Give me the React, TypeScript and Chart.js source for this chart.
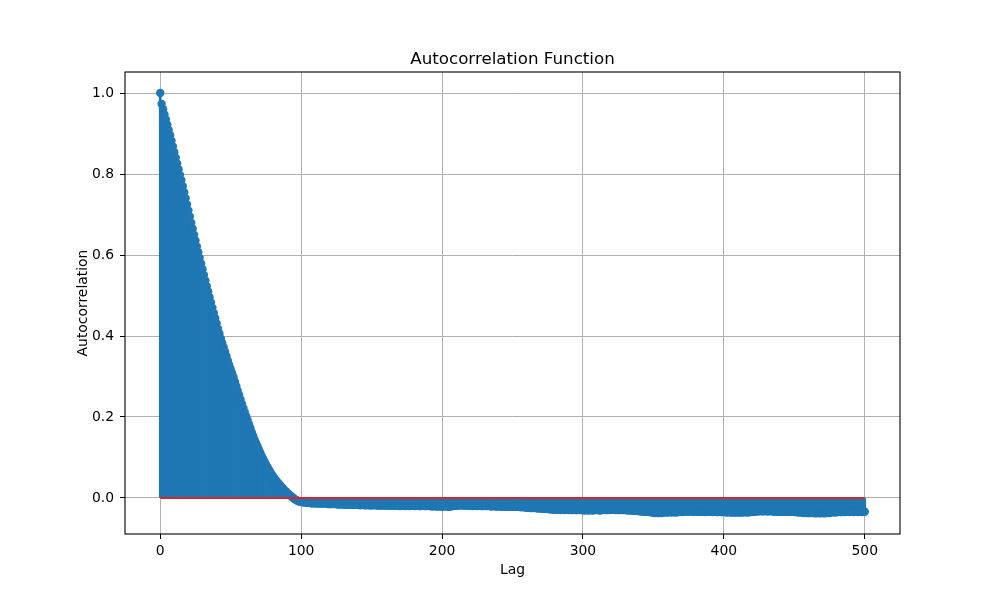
import React, { useEffect, useRef } from "react";
import { Chart, registerables } from "chart.js";

Chart.register(...registerables);

// Autocorrelation values, lag 0..500
const acfLag000to049 = [
  1.0, 0.973, 0.96, 0.947, 0.935, 0.922, 0.909, 0.896, 0.882, 0.868,
  0.854, 0.84, 0.826, 0.812, 0.798, 0.784, 0.77, 0.755, 0.74, 0.725,
  0.71, 0.695, 0.68, 0.665, 0.65, 0.636, 0.621, 0.607, 0.593, 0.579,
  0.565, 0.551, 0.537, 0.523, 0.51, 0.496, 0.483, 0.47, 0.457, 0.444,
  0.431, 0.418, 0.406, 0.394, 0.383, 0.372, 0.361, 0.35, 0.339, 0.328,
];
const acfLag050to100 = [
  0.318, 0.308, 0.298, 0.287, 0.276, 0.265, 0.254, 0.243, 0.232, 0.222,
  0.212, 0.202, 0.192, 0.182, 0.172, 0.162, 0.153, 0.144, 0.136, 0.128,
  0.12, 0.112, 0.104, 0.097, 0.09, 0.083, 0.077, 0.071, 0.065, 0.059,
  0.054, 0.049, 0.044, 0.04, 0.036, 0.032, 0.028, 0.024, 0.02, 0.017,
  0.013, 0.01, 0.007, 0.004, 0.001, -0.002, -0.004, -0.006, -0.008, -0.009,
  -0.01,
];
const acfLag101to200 = [
  -0.01, -0.011, -0.011, -0.012, -0.012, -0.012, -0.013, -0.013, -0.013, -0.013,
  -0.013, -0.014, -0.014, -0.014, -0.014, -0.013, -0.014, -0.014, -0.015, -0.015,
  -0.015, -0.015, -0.014, -0.015, -0.015, -0.016, -0.016, -0.015, -0.016, -0.016,
  -0.016, -0.016, -0.017, -0.016, -0.016, -0.017, -0.017, -0.016, -0.017, -0.017,
  -0.017, -0.018, -0.017, -0.017, -0.018, -0.018, -0.017, -0.018, -0.018, -0.018,
  -0.018, -0.017, -0.018, -0.018, -0.019, -0.018, -0.018, -0.019, -0.018, -0.018,
  -0.019, -0.019, -0.018, -0.019, -0.019, -0.019, -0.018, -0.019, -0.019, -0.02,
  -0.019, -0.019, -0.019, -0.02, -0.019, -0.019, -0.02, -0.019, -0.019, -0.019,
  -0.02, -0.019, -0.019, -0.02, -0.02, -0.019, -0.019, -0.02, -0.02, -0.019,
  -0.02, -0.02, -0.021, -0.02, -0.02, -0.021, -0.021, -0.02, -0.021, -0.021,
];
const acfLag201to300 = [
  -0.021, -0.02, -0.021, -0.021, -0.022, -0.021, -0.02, -0.02, -0.019, -0.019,
  -0.019, -0.018, -0.018, -0.018, -0.018, -0.019, -0.018, -0.019, -0.019, -0.019,
  -0.019, -0.02, -0.019, -0.019, -0.02, -0.019, -0.019, -0.02, -0.02, -0.019,
  -0.02, -0.02, -0.019, -0.02, -0.021, -0.02, -0.02, -0.021, -0.021, -0.02,
  -0.021, -0.021, -0.022, -0.021, -0.021, -0.022, -0.021, -0.021, -0.022, -0.021,
  -0.022, -0.022, -0.021, -0.022, -0.022, -0.023, -0.022, -0.023, -0.023, -0.024,
  -0.024, -0.024, -0.025, -0.025, -0.024, -0.025, -0.025, -0.026, -0.025, -0.026,
  -0.026, -0.027, -0.027, -0.026, -0.027, -0.028, -0.028, -0.028, -0.029, -0.028,
  -0.029, -0.029, -0.029, -0.03, -0.029, -0.029, -0.03, -0.029, -0.029, -0.03,
  -0.029, -0.03, -0.03, -0.029, -0.03, -0.03, -0.029, -0.03, -0.03, -0.03,
];
const acfLag301to400 = [
  -0.031, -0.03, -0.03, -0.031, -0.03, -0.03, -0.031, -0.03, -0.03, -0.03,
  -0.03, -0.031, -0.03, -0.03, -0.029, -0.03, -0.03, -0.029, -0.03, -0.029,
  -0.029, -0.029, -0.03, -0.029, -0.03, -0.03, -0.029, -0.03, -0.03, -0.03,
  -0.03, -0.031, -0.03, -0.031, -0.031, -0.032, -0.031, -0.032, -0.032, -0.033,
  -0.033, -0.033, -0.034, -0.033, -0.034, -0.034, -0.035, -0.035, -0.036, -0.036,
  -0.037, -0.036, -0.037, -0.037, -0.036, -0.037, -0.036, -0.036, -0.035, -0.036,
  -0.035, -0.035, -0.036, -0.035, -0.035, -0.036, -0.035, -0.035, -0.034, -0.035,
  -0.034, -0.034, -0.033, -0.033, -0.034, -0.033, -0.033, -0.034, -0.034, -0.033,
  -0.034, -0.034, -0.033, -0.034, -0.034, -0.034, -0.035, -0.034, -0.034, -0.034,
  -0.034, -0.035, -0.034, -0.034, -0.035, -0.035, -0.034, -0.035, -0.035, -0.035,
];
const acfLag401to500 = [
  -0.035, -0.036, -0.035, -0.035, -0.036, -0.036, -0.035, -0.036, -0.036, -0.035,
  -0.036, -0.036, -0.035, -0.036, -0.035, -0.035, -0.036, -0.035, -0.035, -0.034,
  -0.034, -0.034, -0.033, -0.033, -0.033, -0.032, -0.033, -0.033, -0.032, -0.033,
  -0.033, -0.033, -0.032, -0.033, -0.033, -0.034, -0.033, -0.034, -0.034, -0.033,
  -0.034, -0.034, -0.033, -0.034, -0.034, -0.034, -0.033, -0.034, -0.034, -0.035,
  -0.035, -0.035, -0.036, -0.035, -0.036, -0.036, -0.037, -0.036, -0.037, -0.037,
  -0.037, -0.036, -0.037, -0.037, -0.038, -0.037, -0.037, -0.038, -0.037, -0.037,
  -0.038, -0.037, -0.037, -0.036, -0.037, -0.036, -0.035, -0.035, -0.036, -0.035,
  -0.035, -0.034, -0.035, -0.035, -0.034, -0.035, -0.034, -0.034, -0.035, -0.034,
  -0.034, -0.035, -0.034, -0.034, -0.035, -0.034, -0.034, -0.035, -0.034, -0.034,
];

const xTickValues = [0, 100, 200, 300, 400, 500];
const yTickValues = [0.0, 0.2, 0.4, 0.6, 0.8, 1.0];
const baselineX = [0, 500];

const titleText = "Autocorrelation Function";
const xLabelText = "Lag";
const yLabelText = "Autocorrelation";

const FONT = "'DejaVu Sans', sans-serif";
const BLUE = "#1f77b4";
const RED = "#d62728";

export default function App() {
  const canvasRef = useRef<HTMLCanvasElement | null>(null);

  useEffect(() => {
    document.body.style.margin = "0";
    const canvas = canvasRef.current;
    if (!canvas) return;

    const acf = [
      ...acfLag000to049,
      ...acfLag050to100,
      ...acfLag101to200,
      ...acfLag201to300,
      ...acfLag301to400,
      ...acfLag401to500,
    ];
    const points = acf.map((v, i) => ({ x: i, y: v }));
    const baseline = baselineX.map((x) => ({ x, y: 0 }));

    const textPlugin = {
      id: "mplText",
      afterDatasetsDraw(chart: any) {
        const { ctx, chartArea } = chart;
        const { left, right, top, bottom } = chartArea;
        ctx.save();
        // spines
        ctx.strokeStyle = "#000";
        ctx.lineWidth = 1.1;
        ctx.strokeRect(left, top, right - left, bottom - top);
        ctx.fillStyle = "#000";
        // title
        ctx.font = `16.7px ${FONT}`;
        ctx.textAlign = "center";
        ctx.textBaseline = "alphabetic";
        ctx.fillText(titleText, (left + right) / 2, top - 8.5);
        // x label
        ctx.font = `13.9px ${FONT}`;
        ctx.fillText(xLabelText, (left + right) / 2, 574);
        // y label
        ctx.save();
        ctx.translate(86.5, (top + bottom) / 2);
        ctx.rotate(-Math.PI / 2);
        ctx.textAlign = "center";
        ctx.textBaseline = "alphabetic";
        ctx.fillText(yLabelText, 0, 0);
        ctx.restore();
        ctx.restore();
      },
    };

    const chart = new Chart(canvas, {
      type: "bar",
      data: {
        datasets: [
          {
            type: "line",
            data: baseline,
            borderColor: RED,
            borderWidth: 2,
            pointRadius: 0,
            order: 0,
          } as any,
          {
            type: "line",
            data: points,
            showLine: false,
            pointRadius: 4.2,
            pointBackgroundColor: BLUE,
            pointBorderWidth: 0,
            borderColor: BLUE,
            order: 1,
          } as any,
          {
            type: "bar",
            data: points,
            backgroundColor: BLUE,
            borderWidth: 0,
            barThickness: 2,
            order: 2,
          } as any,
        ],
      },
      options: {
        responsive: false,
        animation: false,
        devicePixelRatio: 1,
        layout: { padding: { top: 72, right: 100, left: 0, bottom: 0 } },
        plugins: {
          legend: { display: false },
          tooltip: { enabled: false },
          title: { display: false },
        },
        scales: {
          x: {
            type: "linear",
            offset: false,
            min: -25,
            max: 525,
            afterFit: (scale: any) => {
              scale.height = 66;
            },
            afterBuildTicks: (scale: any) => {
              scale.ticks = xTickValues.map((v) => ({ value: v }));
            },
            ticks: {
              color: "#000",
              font: { family: FONT, size: 13.9 },
              padding: 4,
              maxRotation: 0,
              callback: (v: any) => String(v),
            },
            grid: {
              offset: false,
              color: "#b0b0b0",
              lineWidth: 1,
              tickColor: "#000",
              tickLength: 5,
              drawTicks: true,
            },
            border: { display: false },
          },
          y: {
            type: "linear",
            min: -0.089,
            max: 1.052,
            afterFit: (scale: any) => {
              scale.width = 125;
            },
            afterBuildTicks: (scale: any) => {
              scale.ticks = yTickValues.map((v) => ({ value: v }));
            },
            ticks: {
              color: "#000",
              font: { family: FONT, size: 13.9 },
              padding: 6,
              callback: (v: any) => Number(v).toFixed(1),
            },
            grid: {
              color: "#b0b0b0",
              lineWidth: 1,
              tickColor: "#000",
              tickLength: 5,
              drawTicks: true,
            },
            border: { display: false },
          },
        },
      } as any,
      plugins: [textPlugin],
    });

    return () => chart.destroy();
  }, []);

  return (
    <div style={{ width: 1000, height: 600, background: "#fff" }}>
      <canvas ref={canvasRef} width={1000} height={600} />
    </div>
  );
}
